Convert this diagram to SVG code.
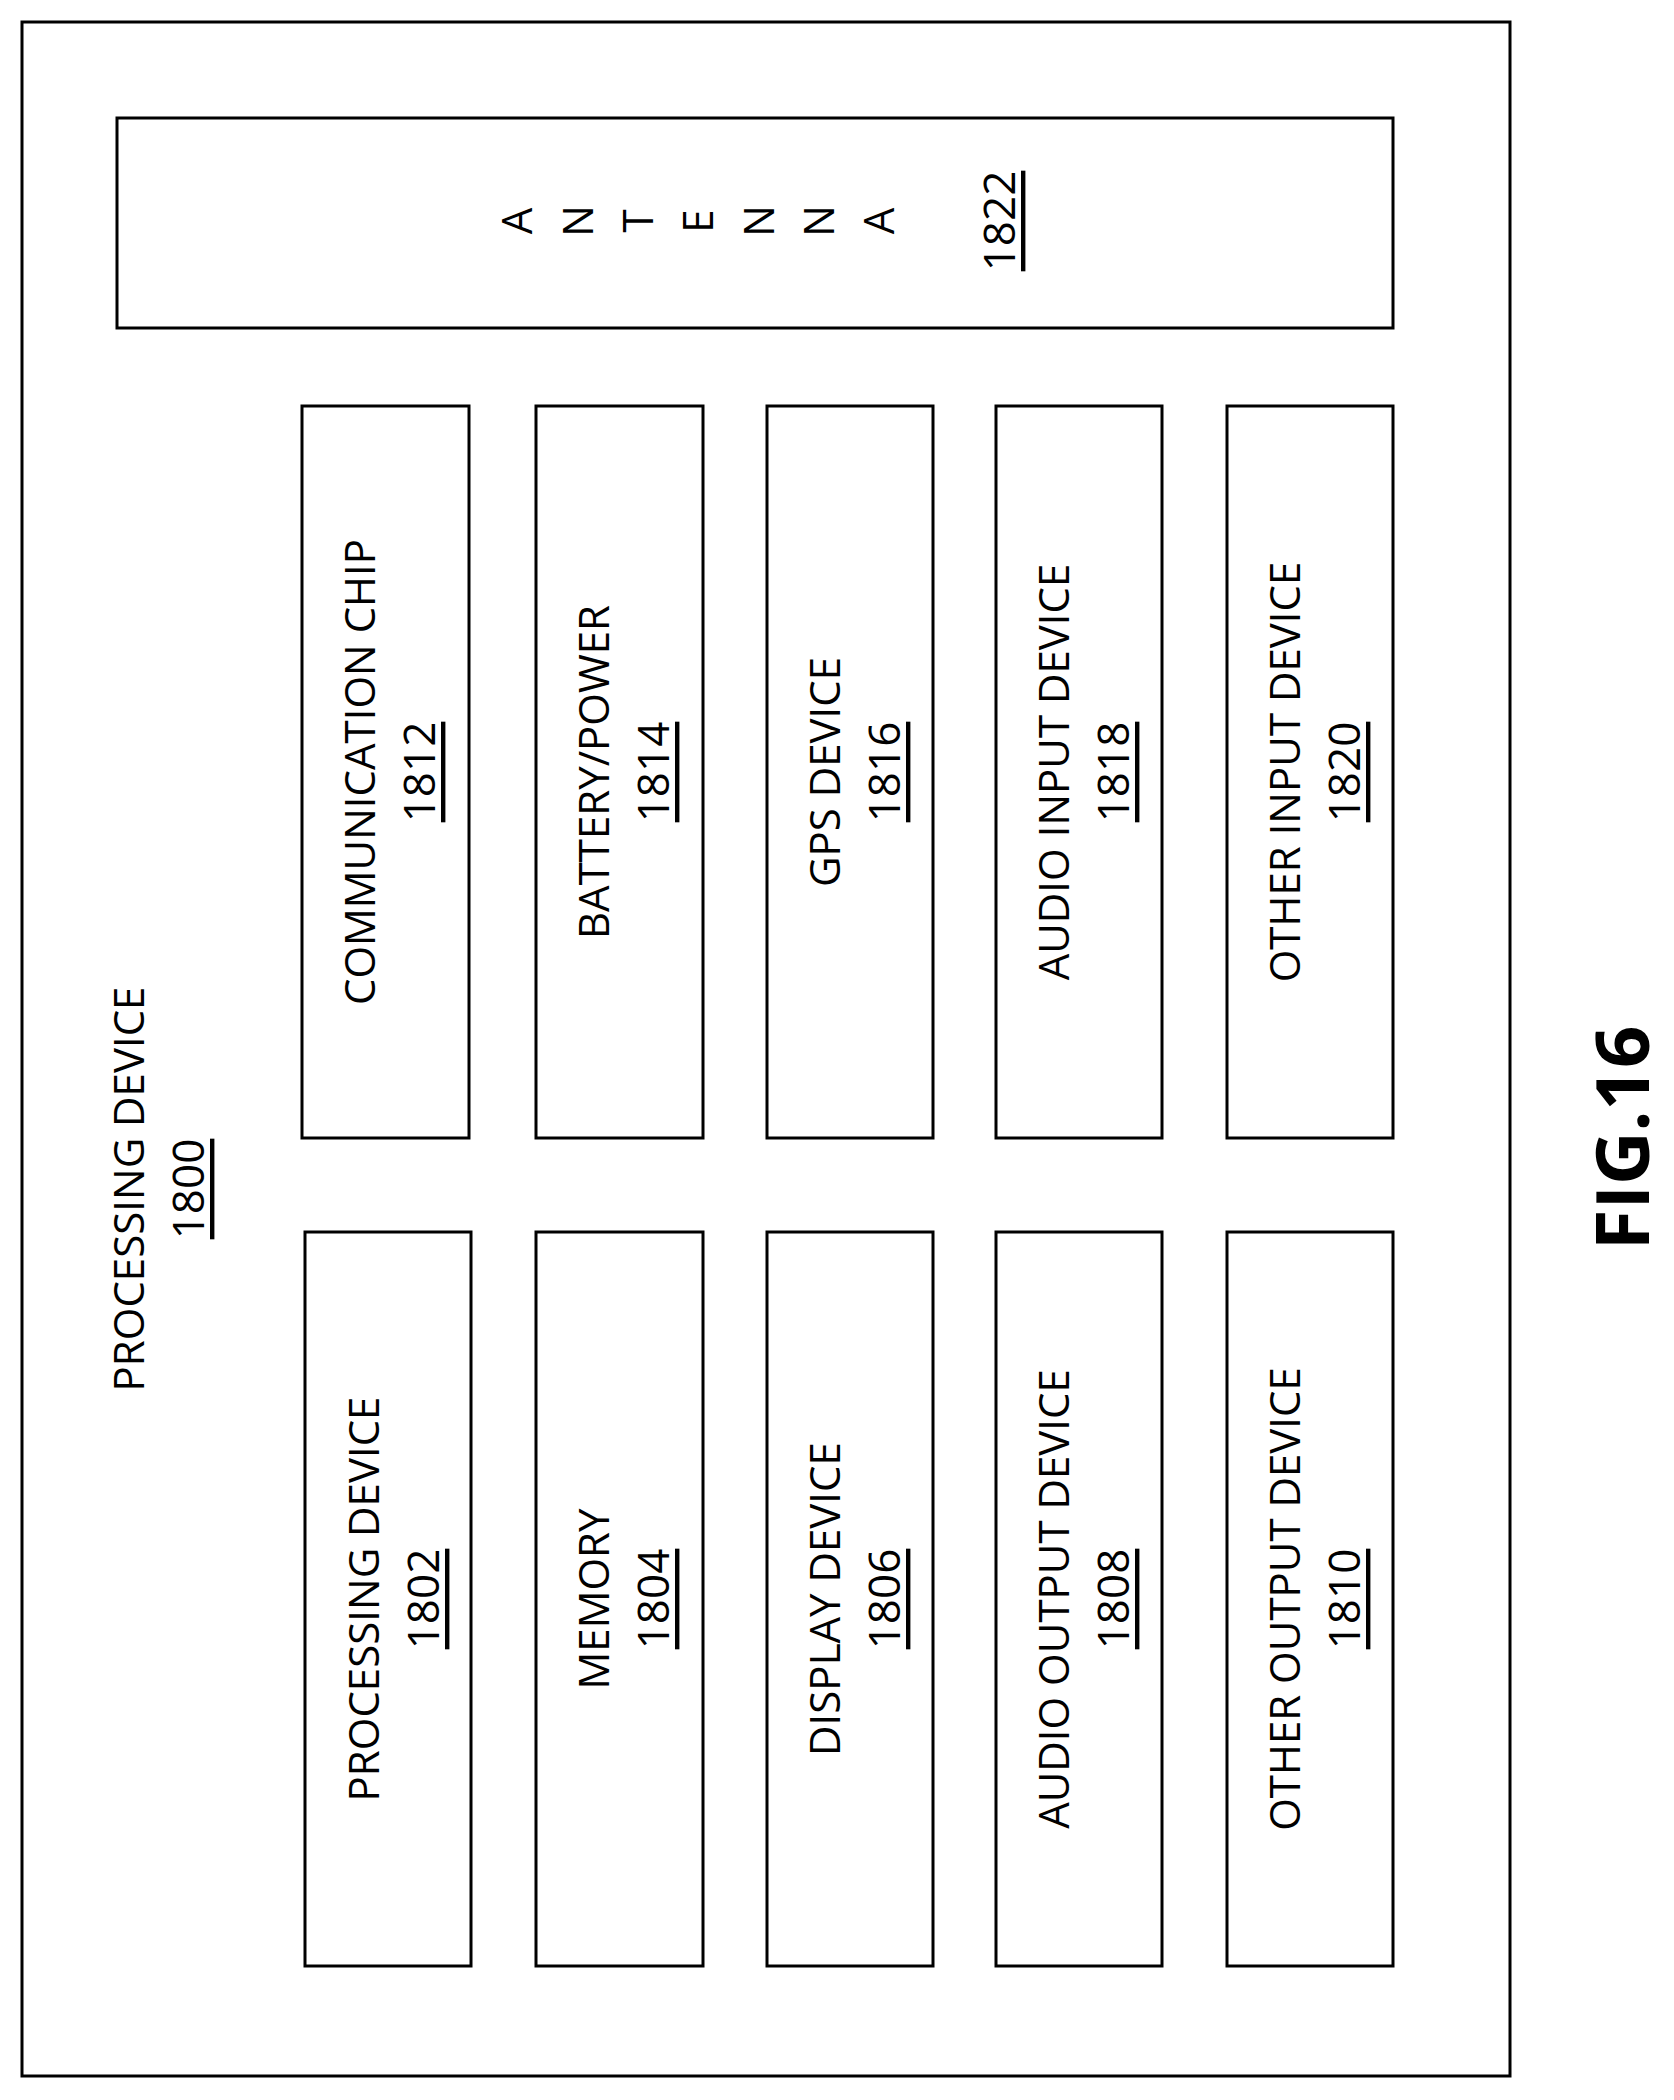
<svg xmlns="http://www.w3.org/2000/svg" width="1674" height="2100" viewBox="0 0 1674 2100">
<style>
rect{fill:none;stroke:#000;stroke-width:3}
text{font-family:"Open Sans","Liberation Sans",sans-serif;font-size:42px;fill:#000;text-anchor:middle;dominant-baseline:central}
.n{text-decoration:underline;font-size:44px}
.f{font-weight:bold;font-size:74px}
</style>
<rect x="0" y="0" width="1674" height="2100" style="fill:#fff;stroke:none"/>
<g id="n1800"><rect x="22" y="22" width="1488" height="2054"/>
<text transform="translate(127,1189) rotate(-90)">PROCESSING DEVICE</text>
<text class="n" transform="translate(187,1189) rotate(-90)">1800</text></g>
<g id="n1822"><rect x="117" y="118" width="1276" height="210"/>
<text transform="translate(515,221) rotate(-90)">A</text>
<text transform="translate(576,221) rotate(-90)">N</text>
<text transform="translate(636,221) rotate(-90)">T</text>
<text transform="translate(696,221) rotate(-90)">E</text>
<text transform="translate(757,221) rotate(-90)">N</text>
<text transform="translate(817,221) rotate(-90)">N</text>
<text transform="translate(877,221) rotate(-90)">A</text>
<text class="n" transform="translate(998,221) rotate(-90)">1822</text></g>
<g id="n1812"><rect x="302" y="406" width="167" height="732"/><text transform="translate(358,772) rotate(-90)">COMMUNICATION CHIP</text><text class="n" transform="translate(418,772) rotate(-90)">1812</text></g>
<g id="n1814"><rect x="536" y="406" width="167" height="732"/><text transform="translate(592,772) rotate(-90)">BATTERY/POWER</text><text class="n" transform="translate(652,772) rotate(-90)">1814</text></g>
<g id="n1816"><rect x="767" y="406" width="166" height="732"/><text transform="translate(823,772) rotate(-90)">GPS DEVICE</text><text class="n" transform="translate(883,772) rotate(-90)">1816</text></g>
<g id="n1818"><rect x="996" y="406" width="166" height="732"/><text transform="translate(1052,772) rotate(-90)">AUDIO INPUT DEVICE</text><text class="n" transform="translate(1112,772) rotate(-90)">1818</text></g>
<g id="n1820"><rect x="1227" y="406" width="166" height="732"/><text transform="translate(1283,772) rotate(-90)">OTHER INPUT DEVICE</text><text class="n" transform="translate(1343,772) rotate(-90)">1820</text></g>
<g id="n1802"><rect x="305" y="1232" width="166" height="734"/><text transform="translate(362,1599) rotate(-90)">PROCESSING DEVICE</text><text class="n" transform="translate(422,1599) rotate(-90)">1802</text></g>
<g id="n1804"><rect x="536" y="1232" width="167" height="734"/><text transform="translate(592,1599) rotate(-90)">MEMORY</text><text class="n" transform="translate(652,1599) rotate(-90)">1804</text></g>
<g id="n1806"><rect x="767" y="1232" width="166" height="734"/><text transform="translate(823,1599) rotate(-90)">DISPLAY DEVICE</text><text class="n" transform="translate(883,1599) rotate(-90)">1806</text></g>
<g id="n1808"><rect x="996" y="1232" width="166" height="734"/><text transform="translate(1052,1599) rotate(-90)">AUDIO OUTPUT DEVICE</text><text class="n" transform="translate(1112,1599) rotate(-90)">1808</text></g>
<g id="n1810"><rect x="1227" y="1232" width="166" height="734"/><text transform="translate(1283,1599) rotate(-90)">OTHER OUTPUT DEVICE</text><text class="n" transform="translate(1343,1599) rotate(-90)">1810</text></g>
<g id="connectors"></g>
<text class="f" transform="translate(1620,1138) rotate(-90)">FIG.16</text>
</svg>
